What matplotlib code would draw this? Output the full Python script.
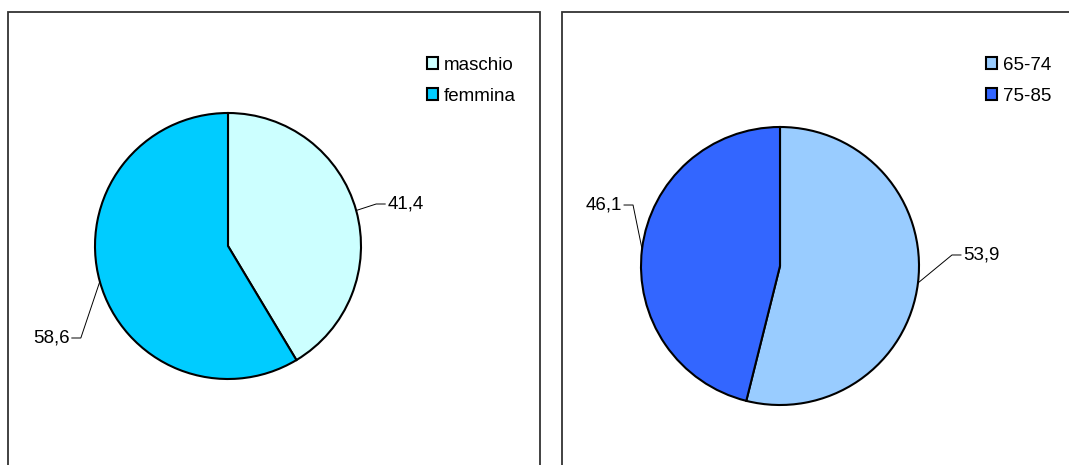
import numpy as np
import matplotlib
matplotlib.use("Agg")
import matplotlib.pyplot as plt
from matplotlib.patches import Rectangle

plt.rcParams["font.family"] = ["Liberation Sans", "DejaVu Sans"]

# Dati: sesso ed età (percentuali)
SEX_LABELS = ["maschio", "femmina"]
SEX_VALUES = [41.4, 58.6]
SEX_COLORS = ["#CCFFFF", "#00CCFF"]

AGE_LABELS = ["65-74", "75-85"]
AGE_VALUES = [53.9, 46.1]
AGE_COLORS = ["#99CCFF", "#3366FF"]

W, H = 1069, 465
LIM = 1.6
FS = 13.5


def px_axes(fig, cx, cy, r):
    # asse quadrato con centro (cx, cy) e raggio r in pixel (y dall'alto)
    half = LIM * r
    return fig.add_axes([(cx - half) / W, (H - cy - half) / H, 2 * half / W, 2 * half / H])


def draw_pie(ax, values, labels, colors, offsets, r_px):
    wedges, _ = ax.pie(values, colors=colors, startangle=90, counterclock=False,
                       wedgeprops=dict(edgecolor="black", linewidth=1.5))
    ax.set_xlim(-LIM, LIM)
    ax.set_ylim(-LIM, LIM)
    ax.set_aspect("equal")
    for w, v, (dx, dy) in zip(wedges, values, offsets):
        mid = np.deg2rad((w.theta1 + w.theta2) / 2)
        ex, ey = np.cos(mid), np.sin(mid)
        tx, ty = ex + dx / r_px, ey - dy / r_px
        side = 1 if dx > 0 else -1
        elbow = tx - side * 11 / r_px
        ax.plot([ex, elbow, tx - side * 2 / r_px], [ey, ty, ty], color="black",
                lw=0.7, clip_on=False)
        ax.text(tx, ty, f"{v:.1f}".replace(".", ","), ha="left" if side > 0 else "right",
                va="center", fontsize=FS)
    return wedges


def add_legend(ax, wedges, labels, x_px):
    ax.legend(wedges, labels, loc="upper left", bbox_to_anchor=(x_px / W, 1 - 57 / H),
              bbox_transform=fig.transFigure, frameon=False, fontsize=FS,
              handlelength=0.6, handleheight=0.6, handletextpad=0.28, labelspacing=0.74,
              borderaxespad=0, borderpad=0)


fig = plt.figure(figsize=(W / 100, H / 100), dpi=100)

# cornici dei due pannelli
fig.patches.append(Rectangle((8 / W, -0.1), (540 - 8) / W, 1.1 - 12 / H,
                             transform=fig.transFigure, fill=False, edgecolor="#333333", lw=1.3))
fig.patches.append(Rectangle((562 / W, -0.1), 0.6, 1.1 - 12 / H,
                             transform=fig.transFigure, fill=False, edgecolor="#333333", lw=1.3))

ax1 = px_axes(fig, 228, 246, 133)
w1 = draw_pie(ax1, SEX_VALUES, SEX_LABELS, SEX_COLORS, [(31, -6.5), (-30, 56.5)], 133)
add_legend(ax1, w1, SEX_LABELS, 427)

ax2 = px_axes(fig, 780, 266, 139)
w2 = draw_pie(ax2, AGE_VALUES, AGE_LABELS, AGE_COLORS, [(45, -28), (-20, -44)], 139)
add_legend(ax2, w2, AGE_LABELS, 986)

fig.savefig("out.png", dpi=100)
